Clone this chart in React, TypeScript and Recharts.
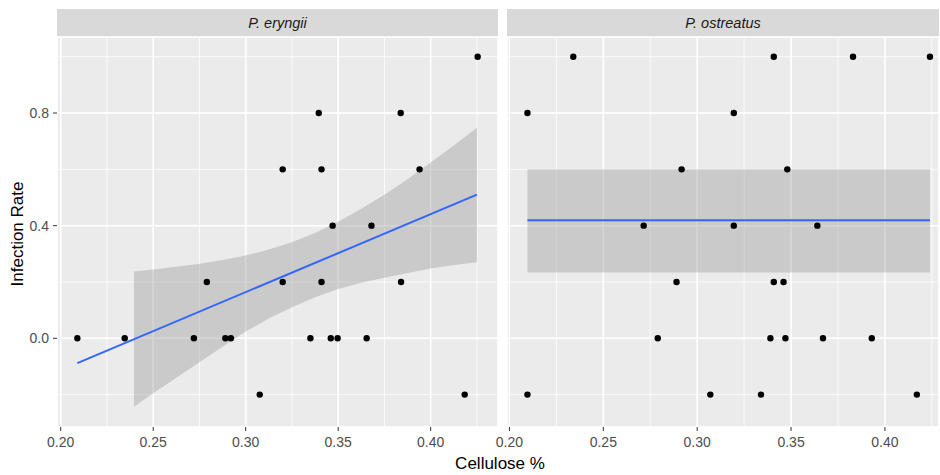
import React from 'react'
import {
  ComposedChart,
  Scatter,
  Line,
  Area,
  XAxis,
  YAxis,
  CartesianGrid,
} from 'recharts'

// P. eryngii observations (Cellulose %, Infection Rate)
const eryngiiX = [
  0.4254, 0.3395, 0.3838, 0.32, 0.341, 0.394, 0.347, 0.368,
  0.279, 0.32, 0.341, 0.384,
  0.209, 0.2346, 0.272, 0.289, 0.292, 0.335, 0.346, 0.3497, 0.3654,
  0.3076, 0.4184,
]
const eryngiiY = [
  1.0, 0.8, 0.8, 0.6, 0.6, 0.6, 0.4, 0.4,
  0.2, 0.2, 0.2, 0.2,
  0, 0, 0, 0, 0, 0, 0, 0, 0,
  -0.2, -0.2,
]

// P. ostreatus observations
const ostreatusX = [
  0.234, 0.3408, 0.383, 0.424,
  0.2096, 0.3195,
  0.2917, 0.348,
  0.2715, 0.3195, 0.364,
  0.289, 0.3408, 0.346,
  0.279, 0.339, 0.347, 0.367, 0.393,
  0.2096, 0.307, 0.334, 0.417,
]
const ostreatusY = [
  1.0, 1.0, 1.0, 1.0,
  0.8, 0.8,
  0.6, 0.6,
  0.4, 0.4, 0.4,
  0.2, 0.2, 0.2,
  0, 0, 0, 0, 0,
  -0.2, -0.2, -0.2, -0.2,
]

// fitted lines (ends) and confidence bands
const eryngiiFitX = [0.209, 0.425]
const eryngiiFitY = [-0.088, 0.51]
const eryngiiBandX = [0.2396, 0.25, 0.2625, 0.275, 0.2875, 0.3, 0.3125, 0.325, 0.3375, 0.35, 0.3625, 0.375, 0.3875, 0.4, 0.4125, 0.425]
const eryngiiBandLow = [-0.243, -0.195, -0.14, -0.085, -0.03, 0.024, 0.07, 0.11, 0.146, 0.175, 0.197, 0.215, 0.232, 0.248, 0.26, 0.27]
const eryngiiBandHigh = [0.237, 0.244, 0.254, 0.265, 0.278, 0.294, 0.315, 0.341, 0.374, 0.414, 0.46, 0.51, 0.565, 0.624, 0.685, 0.748]

const ostreatusFitX = [0.2096, 0.424]
const ostreatusFitY = [0.419, 0.419]
const ostreatusBandLow = [0.234, 0.234]
const ostreatusBandHigh = [0.6, 0.6]

// axis breaks
const xMajor = [0.2, 0.25, 0.3, 0.35, 0.4]
const xMinor = [0.2, 0.225, 0.25, 0.275, 0.3, 0.325, 0.35, 0.375, 0.4, 0.425]
const yMajor = [0, 0.4, 0.8]
const yMinor = [-0.2, 0, 0.2, 0.4, 0.6, 0.8, 1.0]

const FONT = '"Liberation Sans", Arial, sans-serif'
const H = 475

const zip = (xs: number[], ys: number[]) => xs.map((x, i) => ({ x, y: ys[i] }))

function Dot(props: any) {
  return <circle cx={props.cx} cy={props.cy} r={3.2} fill="#000" />
}

interface PanelProps {
  left: number
  plotLeft: number
  plotRight: number
  xDomain: [number, number]
  points: { x: number; y: number }[]
  fit: { x: number; y: number }[]
  band: { x: number; band: [number, number] }[]
  showY: boolean
  title: string
}

function Panel({ left, plotLeft, plotRight, xDomain, points, fit, band, showY, title }: PanelProps) {
  const width = 940 - left
  const yW = showY ? plotLeft - left : 0
  const marginLeft = showY ? 0 : plotLeft - left
  return (
    <>
      <div
        style={{
          position: 'absolute',
          left: plotLeft,
          top: 9,
          width: plotRight - plotLeft,
          height: 28,
          background: '#D9D9D9',
          fontFamily: FONT,
          fontStyle: 'italic',
          fontSize: 14.5,
          color: '#1A1A1A',
          display: 'flex',
          alignItems: 'center',
          justifyContent: 'center',
        }}
      >
        {title}
      </div>
      <div style={{ position: 'absolute', left, top: 0 }}>
        <ComposedChart
          width={width}
          height={H}
          data={band}
          margin={{ top: 37, right: 940 - plotRight, left: marginLeft, bottom: 18 }}
        >
          <XAxis
            xAxisId="minor"
            dataKey="x"
            type="number"
            domain={xDomain}
            ticks={xMinor}
            allowDataOverflow
            hide
          />
          <YAxis
            yAxisId="minor"
            type="number"
            domain={[-0.315, 1.07]}
            ticks={yMinor}
            allowDataOverflow
            hide
          />
          <XAxis
            dataKey="x"
            type="number"
            domain={xDomain}
            ticks={xMajor}
            interval={0}
            allowDataOverflow
            height={30}
            axisLine={false}
            tickSize={4}
            tickMargin={6}
            tickLine={{ stroke: '#333333' }}
            tick={{ fill: '#4D4D4D', fontSize: 14, fontFamily: FONT }}
            tickFormatter={(v: number) => v.toFixed(2)}
          />
          <YAxis
            type="number"
            domain={[-0.315, 1.07]}
            ticks={yMajor}
            interval={0}
            allowDataOverflow
            width={yW}
            hide={!showY}
            axisLine={false}
            tickSize={4}
            tickMargin={4}
            tickLine={{ stroke: '#333333' }}
            tick={{ fill: '#4D4D4D', fontSize: 14, fontFamily: FONT }}
            tickFormatter={(v: number) => v.toFixed(1)}
          />
          <CartesianGrid
            xAxisId="minor"
            yAxisId="minor"
            fill="#EBEBEB"
            stroke="#FFFFFF"
            strokeWidth={0.8}
          />
          <CartesianGrid stroke="#FFFFFF" strokeWidth={1.5} />
          <Scatter data={points} dataKey="y" shape={<Dot />} isAnimationActive={false} />
          <Area
            dataKey="band"
            type="linear"
            stroke="none"
            fill="#999999"
            fillOpacity={0.4}
            isAnimationActive={false}
          />
          <Line
            data={fit}
            dataKey="y"
            type="linear"
            stroke="#3366FF"
            strokeWidth={2}
            dot={false}
            activeDot={false}
            isAnimationActive={false}
          />
        </ComposedChart>
      </div>
    </>
  )
}

export default function App() {
  const eryngiiBand = eryngiiBandX.map((x, i) => ({
    x,
    band: [eryngiiBandLow[i], eryngiiBandHigh[i]] as [number, number],
  }))
  const ostreatusBand = ostreatusFitX.map((x, i) => ({
    x,
    band: [ostreatusBandLow[i], ostreatusBandHigh[i]] as [number, number],
  }))

  return (
    <div
      style={{
        position: 'absolute',
        left: 0,
        top: 0,
        width: 940,
        height: H,
        background: '#FFFFFF',
        overflow: 'hidden',
      }}
    >
      <Panel
        left={0}
        plotLeft={57}
        plotRight={498}
        xDomain={[0.198, 0.4364]}
        points={zip(eryngiiX, eryngiiY)}
        fit={zip(eryngiiFitX, eryngiiFitY)}
        band={eryngiiBand}
        showY
        title="P. eryngii"
      />
      <Panel
        left={470}
        plotLeft={507}
        plotRight={939}
        xDomain={[0.1987, 0.4288]}
        points={zip(ostreatusX, ostreatusY)}
        fit={zip(ostreatusFitX, ostreatusFitY)}
        band={ostreatusBand}
        showY={false}
        title="P. ostreatus"
      />
      <div
        style={{
          position: 'absolute',
          left: 18,
          top: 234,
          transform: 'translate(-50%, -50%) rotate(-90deg)',
          fontFamily: FONT,
          fontSize: 17,
          color: '#000',
          whiteSpace: 'nowrap',
        }}
      >
        Infection Rate
      </div>
      <div
        style={{
          position: 'absolute',
          left: 500,
          top: 464,
          transform: 'translate(-50%, -50%)',
          fontFamily: FONT,
          fontSize: 17,
          color: '#000',
          whiteSpace: 'nowrap',
        }}
      >
        Cellulose %
      </div>
    </div>
  )
}
